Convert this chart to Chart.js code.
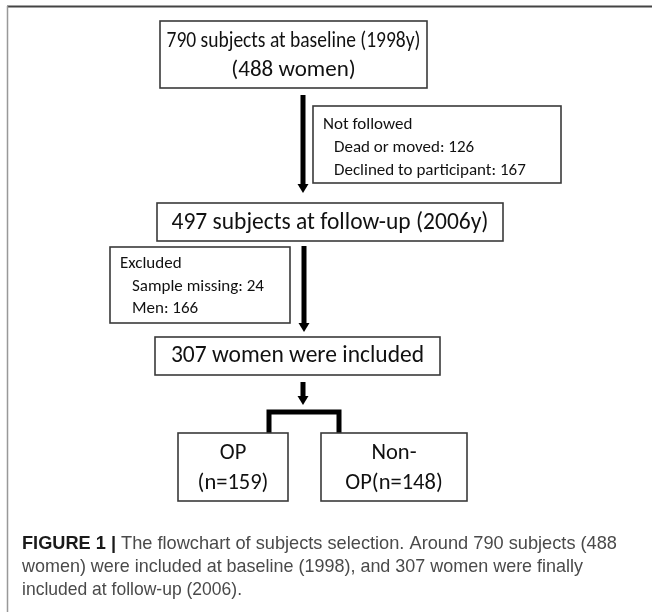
<!DOCTYPE html>
<html>
<head>
<meta charset="utf-8">
<script src="https://cdn.jsdelivr.net/npm/chart.js@4"></script>
<style>
  html, body { margin: 0; padding: 0; background: #fff; }
  #wrap { width: 652px; height: 615px; position: relative; }
</style>
</head>
<body>
<div id="wrap"><canvas id="myChart"></canvas></div>
<script>
// flowchart numbers
const baseline = [790, 488]        // subjects, women
const baselineYear = 1998
const followUp = 497
const followUpYear = 2006
const included = 307
const notFollowedLabels = ["Dead or moved", "Declined to participant"]
const notFollowedCounts = [126, 167]
const excludedLabels = ["Sample missing", "Men"]
const excludedCounts = [24, 166]
const groupLabels = ["OP", "Non-OP"]
const groupCounts = [159, 148]
const captionHead = "FIGURE 1 |"
const captionLines = [
  " The flowchart of subjects selection. Around 790 subjects (488",
  "women) were included at baseline (1998), and 307 women were finally",
  "included at follow-up (2006)."
]

// layout in canvas units (x 0..652, y 0..615)
const FONT = "Carlito, Lato, 'Noto Sans', sans-serif"
const layout = {
  box1: [160, 21, 427, 88],
  arrow1: [303, 95, 193],
  nfBox: [313, 106, 561, 183],
  box2: [157, 203, 503, 241],
  arrow2: [304, 246, 332],
  exBox: [110, 247, 290, 323],
  box3: [155, 337, 440, 375],
  arrow3: [303, 382, 405],
  bracket: [269, 339, 412, 433],
  opBox: [178, 433, 288, 501],
  nonBox: [321, 433, 467, 501]
}

const flowPlugin = {
  id: "flow",
  afterDraw(chart) {
    const c = chart.ctx
    const sx = chart.scales.x, sy = chart.scales.y
    const X = v => sx.getPixelForValue(v)
    const Y = v => sy.getPixelForValue(v)

    function box(b) {
      c.save()
      c.strokeStyle = "#3a3a3a"
      c.lineWidth = 1.6
      c.strokeRect(X(b[0]), Y(b[1]), X(b[2]) - X(b[0]), Y(b[3]) - Y(b[1]))
      c.restore()
    }
    function text(s, x, y, size, align, maxW, color, weight) {
      c.save()
      c.font = (weight || "normal") + " " + size + "px " + FONT
      c.fillStyle = color || "#111"
      c.textAlign = align || "center"
      c.textBaseline = "middle"
      c.fillText(s, X(x), Y(y), maxW)
      c.restore()
    }
    function arrow(a) {
      const x = X(a[0]), y0 = Y(a[1]), y1 = Y(a[2])
      c.save()
      c.fillStyle = "#000"
      c.fillRect(x - 2.5, y0, 5, y1 - y0 - 8)
      c.beginPath()
      c.moveTo(x - 5.5, y1 - 9)
      c.lineTo(x + 5.5, y1 - 9)
      c.lineTo(x, y1)
      c.closePath()
      c.fill()
      c.restore()
    }

    // outer frame
    c.save()
    c.strokeStyle = "#444"
    c.lineWidth = 2
    c.beginPath(); c.moveTo(X(7), Y(6.5)); c.lineTo(X(652), Y(6.5)); c.stroke()
    c.strokeStyle = "#999"
    c.lineWidth = 1.5
    c.beginPath(); c.moveTo(X(7.5), Y(6)); c.lineTo(X(7.5), Y(612)); c.stroke()
    c.restore()

    // baseline box
    const b1 = layout.box1
    box(b1)
    const cx1 = (b1[0] + b1[2]) / 2
    text(baseline[0] + " subjects at baseline (" + baselineYear + "y)", cx1, 41, 23, "center", 254)
    text("(" + baseline[1] + " women)", cx1, 70, 23, "center")
    arrow(layout.arrow1)

    // not followed
    const nf = layout.nfBox
    box(nf)
    text("Not followed", nf[0] + 10, 125, 17, "left")
    notFollowedLabels.forEach((l, i) => {
      text(l + ": " + notFollowedCounts[i], nf[0] + 21, 148 + i * 23, 17, "left", 214)
    })

    // follow-up box
    const b2 = layout.box2
    box(b2)
    text(followUp + " subjects at follow-up (" + followUpYear + "y)", (b2[0] + b2[2]) / 2, 223, 23.5, "center", 320)
    arrow(layout.arrow2)

    // excluded
    const ex = layout.exBox
    box(ex)
    text("Excluded", ex[0] + 10, 264, 17, "left")
    excludedLabels.forEach((l, i) => {
      text(l + ": " + excludedCounts[i], ex[0] + 22, 287 + i * 22, 17, "left", 146)
    })

    // included box
    const b3 = layout.box3
    box(b3)
    text(included + " women were included", (b3[0] + b3[2]) / 2, 356, 23.5, "center", 258)
    arrow(layout.arrow3)

    // bracket
    const br = layout.bracket
    c.save()
    c.strokeStyle = "#000"
    c.lineWidth = 5
    c.lineJoin = "miter"
    c.beginPath()
    c.moveTo(X(br[0]), Y(br[3]))
    c.lineTo(X(br[0]), Y(br[2]))
    c.lineTo(X(br[1]), Y(br[2]))
    c.lineTo(X(br[1]), Y(br[3]))
    c.stroke()
    c.restore()

    // groups
    const op = layout.opBox, non = layout.nonBox
    box(op); box(non)
    text(groupLabels[0], (op[0] + op[2]) / 2, 453, 22.5, "center")
    text("(n=" + groupCounts[0] + ")", (op[0] + op[2]) / 2, 483, 22.5, "center")
    text(groupLabels[1].split("-")[0] + "-", (non[0] + non[2]) / 2, 453, 22.5, "center")
    text(groupLabels[1].split("-")[1] + "(n=" + groupCounts[1] + ")", (non[0] + non[2]) / 2, 483, 22.5, "center")

    // caption
    const capFont = "'Liberation Sans', Arial, sans-serif"
    c.save()
    c.textBaseline = "middle"
    c.font = "bold 18.5px " + capFont
    c.fillStyle = "#1a1a1a"
    c.fillText(captionHead, X(22), Y(544), 94)
    const hw = Math.min(c.measureText(captionHead).width, 94)
    c.font = "18.5px " + capFont
    c.fillStyle = "#4a4a4a"
    c.fillText(captionLines[0], X(22) + hw, Y(544), 595 - hw)
    c.fillText(captionLines[1], X(22), Y(567), 561)
    c.fillText(captionLines[2], X(22), Y(590), 220)
    c.restore()
  }
}

const ctx = document.getElementById("myChart")
const myChart = new Chart(ctx, {
  type: "scatter",
  data: { datasets: [{ data: [], pointRadius: 0 }] },
  options: {
    responsive: true,
    maintainAspectRatio: false,
    animation: false,
    layout: { padding: 0 },
    plugins: { legend: { display: false }, tooltip: { enabled: false } },
    scales: {
      x: { type: "linear", min: 0, max: 652, display: false },
      y: { type: "linear", min: 0, max: 615, reverse: true, display: false }
    }
  },
  plugins: [flowPlugin]
})
</script>
</body>
</html>
